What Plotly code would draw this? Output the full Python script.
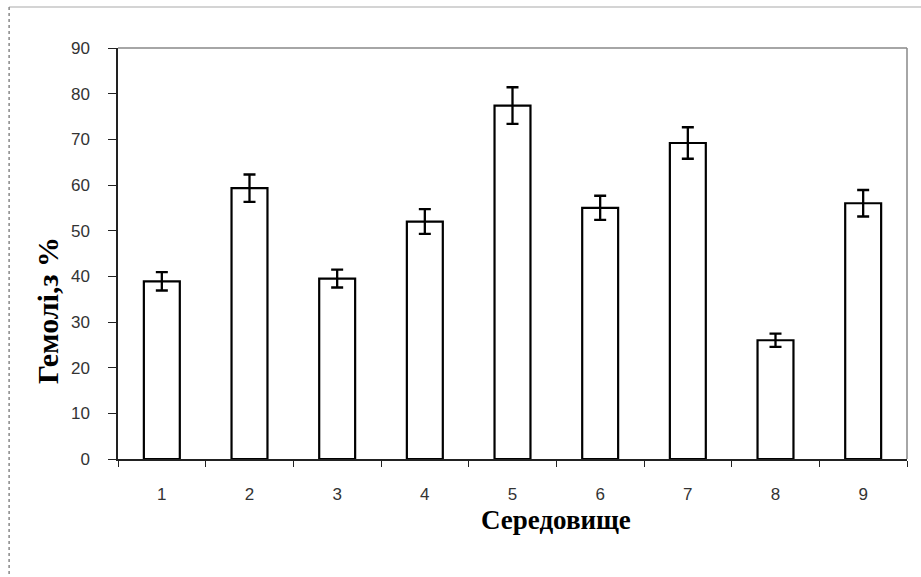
import plotly.graph_objects as go

categories = ["1", "2", "3", "4", "5", "6", "7", "8", "9"]
values = [38.9, 59.3, 39.5, 52.0, 77.4, 55.0, 69.2, 26.0, 56.0]
errors = [2.0, 3.0, 1.95, 2.7, 4.0, 2.65, 3.45, 1.45, 2.9]
y_title = "Гемолі,з %"
x_title = "Середовище"

fig = go.Figure()
fig.add_trace(go.Bar(
    x=categories, y=values, width=0.41,
    marker=dict(color="white", line=dict(color="black", width=2.2)),
    error_y=dict(type="data", array=errors, visible=True,
                 color="black", thickness=2.3, width=6),
    showlegend=False,
))

axis_font = dict(family="Liberation Sans, Arial", size=17, color="#333")
fig.update_layout(
    width=921, height=577,
    margin=dict(l=118, r=14, t=48, b=118),
    paper_bgcolor="white", plot_bgcolor="white",
    xaxis=dict(type="category", tickson="boundaries", ticks="outside",
               ticklen=6, tickwidth=1.3, tickcolor="#222",
               showline=True, linecolor="#222", linewidth=1.5,
               showgrid=False, tickfont=axis_font, ticklabelstandoff=19),
    yaxis=dict(range=[0, 90], dtick=10, ticks="outside", ticklen=8,
               tickwidth=1.3, tickcolor="#222",
               showline=True, linecolor="#222", linewidth=1.5,
               showgrid=False, zeroline=False, tickfont=axis_font,
               ticklabelstandoff=15),
    shapes=[
        dict(type="line", xref="paper", yref="paper", x0=0, x1=1, y0=1, y1=1,
             line=dict(color="#888", width=1.5)),
        dict(type="line", xref="paper", yref="paper", x0=1, x1=1, y0=0, y1=1,
             line=dict(color="#888", width=1.5)),
        dict(type="line", xref="paper", yref="paper", x0=-0.138, x1=1.03,
             y0=1.0998, y1=1.0998, line=dict(color="#aaa", width=1.2)),
        dict(type="line", xref="paper", yref="paper", x0=-0.138, x1=-0.138,
             y0=1.0998, y1=-0.3, line=dict(color="#888", width=1.5, dash="dot")),
    ],
    annotations=[
        dict(text="<b>" + y_title + "</b>", xref="paper", yref="paper",
             x=-0.09, y=0.3625, showarrow=False, textangle=-90,
             font=dict(family="Liberation Serif, Times New Roman", size=30,
                       color="black"), xanchor="center", yanchor="middle"),
        dict(text="<b>" + x_title + "</b>", xref="paper", yref="paper",
             x=0.555, y=-0.148, showarrow=False,
             font=dict(family="Liberation Serif, Times New Roman", size=27,
                       color="black"), xanchor="center", yanchor="middle"),
    ],
)

fig.write_html("out.html")
